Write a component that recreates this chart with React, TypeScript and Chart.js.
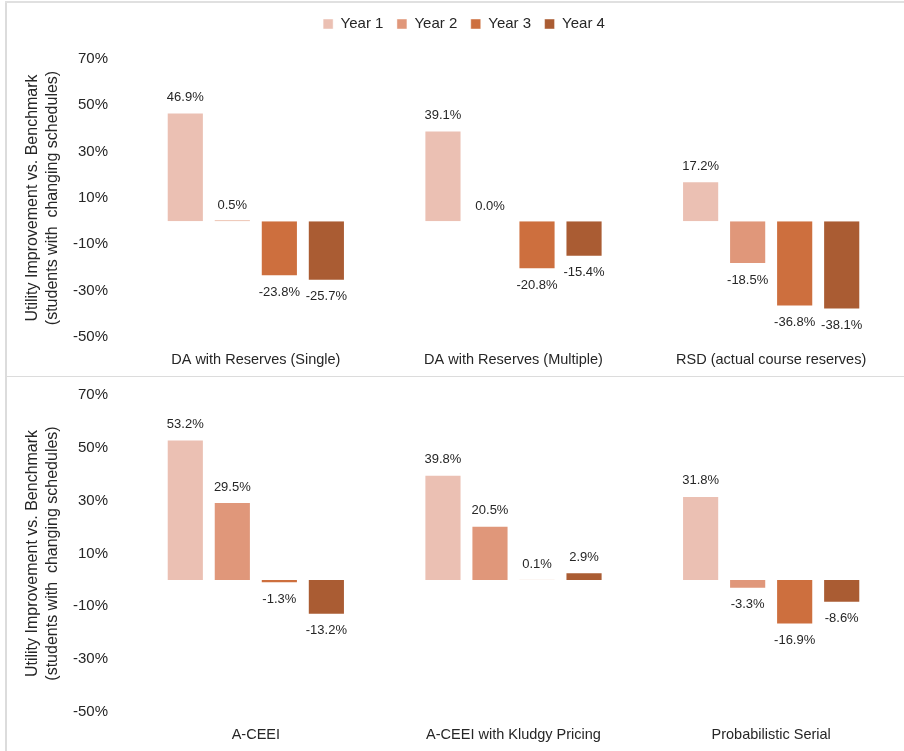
import React, { useEffect, useRef } from "react";
import { Chart, registerables } from "chart.js";

Chart.register(...registerables);

const seriesNames = ["Year 1", "Year 2", "Year 3", "Year 4"];
const seriesColors = ["#EBC0B3", "#E0977A", "#CD6F3E", "#AA5C33"];

const topCategories = [
  "DA with Reserves (Single)",
  "DA with Reserves (Multiple)",
  "RSD (actual course reserves)",
];
const topYear1 = [46.9, 39.1, 17.2];
const topYear2 = [0.5, 0.0, -18.5];
const topYear3 = [-23.8, -20.8, -36.8];
const topYear4 = [-25.7, -15.4, -38.1];

const bottomCategories = ["A-CEEI", "A-CEEI with Kludgy Pricing", "Probabilistic Serial"];
const bottomYear1 = [53.2, 39.8, 31.8];
const bottomYear2 = [29.5, 20.5, -3.3];
const bottomYear3 = [-1.3, 0.1, -16.9];
const bottomYear4 = [-13.2, 2.9, -8.6];

const yMin = -50;
const yMax = 70;
const yStep = 20;
const yTitle = ["Utility Improvement vs. Benchmark", "(students with  changing schedules)"];

const FONT = '"Liberation Sans", Arial, sans-serif';
const TEXT = "#262626";

const valueLabels = {
  id: "valueLabels",
  afterDatasetsDraw(chart: any) {
    const ctx = chart.ctx;
    ctx.save();
    ctx.font = `13px ${FONT}`;
    ctx.fillStyle = TEXT;
    ctx.textAlign = "center";
    ctx.textBaseline = "middle";
    chart.data.datasets.forEach((ds: any, i: number) => {
      const meta = chart.getDatasetMeta(i);
      meta.data.forEach((el: any, j: number) => {
        const v = ds.data[j];
        const p = el.getProps(["x", "y", "base"], true);
        const txt = v.toFixed(1) + "%";
        if (v >= 0) {
          ctx.fillText(txt, p.x, Math.min(p.y, p.base) - 15);
        } else {
          ctx.fillText(txt, p.x, Math.max(p.y, p.base) + 16);
        }
      });
    });
    ctx.restore();
  },
};

const legendTweak = {
  id: "legendTweak",
  beforeLayout(chart: any) {
    const lg = chart.legend;
    if (lg && !lg._patched) {
      const orig = lg.fit;
      lg.fit = function () {
        orig.call(this);
        this.height += 17.5;
      };
      lg._patched = true;
    }
  },
  afterLayout(chart: any) {
    const lg = chart.legend;
    if (lg) {
      lg.left += 10;
      lg.right += 10;
    }
  },
};

function makeConfig(categories: string[], series: number[][], showLegend: boolean, padTop: number) {
  return {
    type: "bar" as const,
    data: {
      labels: categories,
      datasets: series.map((d, i) => ({
        label: seriesNames[i],
        data: d,
        backgroundColor: seriesColors[i],
        borderColor: "rgba(255,255,255,0.45)",
        borderWidth: 1,
        categoryPercentage: 0.73,
        barPercentage: 0.79,
      })),
    },
    options: {
      responsive: false,
      animation: false as const,
      devicePixelRatio: 1,
      layout: { padding: { left: 8, right: 4, top: padTop, bottom: 7 } },
      plugins: {
        legend: {
          display: showLegend,
          position: "top" as const,
          labels: {
            boxWidth: 10,
            boxHeight: 10,
            padding: 13.5,
            color: TEXT,
            font: { family: FONT, size: 15 },
          },
        },
        tooltip: { enabled: false },
      },
      scales: {
        x: {
          grid: { display: false, drawTicks: false },
          border: { display: false },
          ticks: {
            color: TEXT,
            font: { family: FONT, size: 14.5 },
            padding: 14,
            autoSkip: false,
            maxRotation: 0,
          },
          afterFit: (scale: any) => {
            scale.height = 32;
          },
        },
        y: {
          min: yMin,
          max: yMax,
          border: { display: false },
          grid: {
            drawTicks: false,
            lineWidth: 1.5,
            color: (c: any) => (c.tick && c.tick.value === 0 ? "#D9D9D9" : "rgba(0,0,0,0)"),
          },
          ticks: {
            stepSize: yStep,
            color: TEXT,
            padding: 19,
            font: { family: FONT, size: 15 },
            callback: (v: any) => v + "%",
          },
          title: {
            display: true,
            text: yTitle,
            color: TEXT,
            font: { family: FONT, size: 16, lineHeight: 1.25 },
            padding: { top: 15, bottom: 0 },
          },
          afterFit: (scale: any) => {
            scale.width = 119;
            scale.paddingTop = 9;
            scale.paddingBottom = 9;
          },
        },
      },
    },
    plugins: showLegend ? [valueLabels, legendTweak] : [valueLabels],
  };
}

function Panel(props: { categories: string[]; series: number[][]; legend: boolean; padTop: number; height: number; top: number }) {
  const ref = useRef<HTMLCanvasElement | null>(null);
  useEffect(() => {
    if (!ref.current) return;
    const chart = new Chart(ref.current, makeConfig(props.categories, props.series, props.legend, props.padTop) as any);
    return () => chart.destroy();
  }, []);
  return (
    <div style={{ position: "absolute", left: 0, top: props.top, width: 904, height: props.height }}>
      <canvas ref={ref} width={904} height={props.height} style={{ width: 904, height: props.height, display: "block" }} />
    </div>
  );
}

export default function App() {
  return (
    <div style={{ position: "absolute", left: 0, top: 0, width: 904, height: 751, background: "#fff", overflow: "hidden" }}>
      <Panel categories={topCategories} series={[topYear1, topYear2, topYear3, topYear4]} legend={true} padTop={3} height={376} top={0} />
      <Panel categories={bottomCategories} series={[bottomYear1, bottomYear2, bottomYear3, bottomYear4]} legend={false} padTop={19} height={375} top={376} />
      <div style={{ position: "absolute", left: 5, top: 1, width: 2, height: 750, background: "#DCDCDC" }} />
      <div style={{ position: "absolute", left: 5, top: 1, width: 899, height: 1.5, background: "#E0E0E0" }} />
      <div style={{ position: "absolute", left: 5, top: 375.5, width: 899, height: 1.5, background: "#DCDCDC" }} />
    </div>
  );
}
